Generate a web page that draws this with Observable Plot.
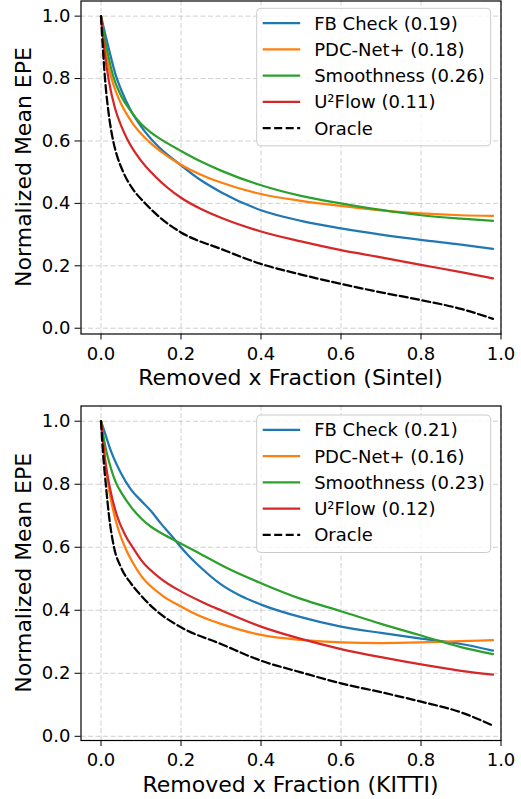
<!DOCTYPE html>
<html><head><meta charset="utf-8">
<script src="https://cdn.jsdelivr.net/npm/d3@7"></script>
<script src="https://cdn.jsdelivr.net/npm/@observablehq/plot@0.6"></script>
<style>
body{margin:0;background:#fff;}
#root svg{display:block;}
</style>
</head><body><div id="root"></div>
<script>
const methods = ["FB Check", "PDC-Net+", "Smoothness", "U²Flow", "Oracle"];
const colors = ["#1f77b4", "#ff7f0e", "#2ca02c", "#d62728", "#000000"];
const sintelScores = [0.19, 0.18, 0.26, 0.11];
const kittiScores = [0.21, 0.16, 0.23, 0.12];
const xTicks = [0, 0.2, 0.4, 0.6, 0.8, 1.0];
const yTicks = [0, 0.2, 0.4, 0.6, 0.8, 1.0];

// Sintel curves [removed fraction, normalized mean EPE]
const sintelFB = [[0,1],[0.01,0.945],[0.02,0.893],[0.037,0.81],[0.05,0.765],[0.075,0.697],[0.1,0.647],[0.137,0.59],[0.2,0.522],[0.25,0.474],[0.3,0.436],[0.4,0.378],[0.5,0.344],[0.6,0.32],[0.7,0.3],[0.8,0.283],[0.9,0.268],[0.98,0.254]];
const sintelPDC = [[0,1],[0.01,0.9],[0.02,0.832],[0.03,0.785],[0.05,0.72],[0.08,0.655],[0.12,0.598],[0.15,0.566],[0.2,0.524],[0.25,0.492],[0.3,0.467],[0.4,0.43],[0.5,0.408],[0.6,0.392],[0.7,0.378],[0.8,0.368],[0.9,0.362],[0.98,0.36]];
const sintelSmooth = [[0,1],[0.01,0.925],[0.02,0.862],[0.03,0.81],[0.05,0.745],[0.075,0.695],[0.1,0.655],[0.125,0.627],[0.15,0.605],[0.2,0.568],[0.25,0.534],[0.3,0.505],[0.4,0.458],[0.5,0.424],[0.6,0.4],[0.7,0.379],[0.8,0.362],[0.9,0.351],[0.98,0.344]];
const sintelU2 = [[0,1],[0.01,0.875],[0.02,0.79],[0.035,0.705],[0.05,0.65],[0.066,0.605],[0.1,0.537],[0.135,0.487],[0.2,0.418],[0.25,0.382],[0.3,0.354],[0.4,0.31],[0.5,0.278],[0.6,0.25],[0.7,0.227],[0.8,0.203],[0.9,0.18],[0.98,0.16]];
const sintelOracle = [[0,1],[0.005,0.89],[0.01,0.8],[0.02,0.68],[0.03,0.603],[0.04,0.553],[0.055,0.502],[0.08,0.445],[0.107,0.405],[0.15,0.352],[0.2,0.307],[0.3,0.254],[0.4,0.206],[0.5,0.172],[0.6,0.142],[0.7,0.115],[0.8,0.09],[0.9,0.062],[0.98,0.03]];

// KITTI curves
const kittiFB = [[0,1],[0.01,0.962],[0.025,0.905],[0.05,0.835],[0.075,0.783],[0.1,0.748],[0.125,0.715],[0.15,0.675],[0.1825,0.627],[0.2,0.6],[0.216,0.577],[0.25,0.535],[0.3,0.482],[0.35,0.445],[0.4,0.418],[0.5,0.378],[0.6,0.348],[0.7,0.328],[0.8,0.31],[0.9,0.293],[0.98,0.272]];
const kittiPDC = [[0,1],[0.01,0.88],[0.018,0.8],[0.03,0.72],[0.045,0.65],[0.06,0.6],[0.08,0.55],[0.1,0.51],[0.15,0.45],[0.2,0.412],[0.25,0.38],[0.3,0.357],[0.4,0.322],[0.5,0.306],[0.6,0.298],[0.7,0.296],[0.8,0.298],[0.9,0.302],[0.98,0.305]];
const kittiSmooth = [[0,1],[0.01,0.925],[0.02,0.872],[0.03,0.83],[0.04,0.798],[0.05,0.775],[0.075,0.728],[0.1,0.692],[0.125,0.665],[0.15,0.645],[0.1825,0.623],[0.21,0.605],[0.25,0.578],[0.32,0.531],[0.4,0.486],[0.5,0.436],[0.6,0.397],[0.7,0.357],[0.8,0.32],[0.9,0.283],[0.98,0.261]];
const kittiU2 = [[0,1],[0.01,0.88],[0.022,0.79],[0.04,0.7],[0.06,0.64],[0.08,0.598],[0.1,0.56],[0.15,0.5],[0.2,0.46],[0.25,0.428],[0.3,0.4],[0.4,0.348],[0.5,0.309],[0.6,0.277],[0.7,0.251],[0.8,0.228],[0.9,0.208],[0.98,0.196]];
const kittiOracle = [[0,1],[0.005,0.9],[0.012,0.8],[0.02,0.7],[0.0325,0.6],[0.05,0.536],[0.075,0.485],[0.1,0.447],[0.1325,0.405],[0.2,0.346],[0.3,0.293],[0.4,0.24],[0.5,0.203],[0.6,0.168],[0.7,0.14],[0.8,0.11],[0.9,0.076],[0.98,0.034]];

const FONT = "DejaVu Sans, Liberation Sans, sans-serif";
const fmt = d3.format(".1f");

function makeChart(cfg) {
  const W = 521, mL = 80.5, mR = 20.5;
  const marks = [
    Plot.gridX(xTicks, {stroke: "#b0b0b0", strokeOpacity: 0.6, strokeWidth: 1, strokeDasharray: "5,2.5"}),
    Plot.gridY(yTicks, {stroke: "#b0b0b0", strokeOpacity: 0.6, strokeWidth: 1, strokeDasharray: "5,2.5"}),
  ];
  cfg.series.forEach((pts, i) => {
    marks.push(Plot.line(pts, {
      x: d => d[0], y: d => d[1], stroke: colors[i], strokeWidth: 2.25,
      curve: "monotone-x", strokeDasharray: i === 4 ? "8,3.5" : undefined
    }));
  });
  marks.push(
    Plot.frame({stroke: "black", strokeWidth: 1.2}),
    Plot.axisX(xTicks, {tickFormat: fmt, tickSize: 6, tickPadding: 7, fontSize: 18, label: null}),
    Plot.axisY(yTicks, {tickFormat: fmt, tickSize: 6, tickPadding: 4.5, fontSize: 18, label: null})
  );
  const svg = Plot.plot({
    width: W, height: cfg.height,
    marginLeft: mL, marginRight: mR, marginTop: cfg.marginTop, marginBottom: cfg.marginBottom,
    x: {domain: [-0.05, 1.0]},
    y: {domain: cfg.yDomain},
    style: {fontFamily: FONT, fontSize: "18px", background: "white", color: "black", overflow: "visible"},
    marks
  });
  const frameTop = cfg.marginTop, frameBottom = cfg.height - cfg.marginBottom;
  const frameLeft = mL, frameRight = W - mR;
  const s = d3.select(svg);
  // axis titles
  s.append("text").attr("font-family", FONT).attr("font-size", 22).attr("text-anchor", "middle")
    .attr("fill", "black")
    .attr("x", (frameLeft + frameRight) / 2).attr("y", frameBottom + 51.5).text(cfg.xlabel);
  s.append("text").attr("font-family", FONT).attr("font-size", 22).attr("text-anchor", "middle")
    .attr("fill", "black")
    .attr("transform", `translate(${frameLeft - 49.5},${(frameTop + frameBottom) / 2}) rotate(-90)`)
    .text("Normalized Mean EPE");
  // legend (upper right)
  const left = frameRight - 9.8 - 234;
  const top = frameTop + cfg.legendTop;
  const g = s.append("g").attr("font-family", FONT).attr("font-size", 18).attr("text-anchor", "start");
  g.append("rect").attr("x", left).attr("y", top).attr("width", 234).attr("height", 137.5)
    .attr("rx", 4).attr("fill", "white").attr("fill-opacity", 0.8).attr("stroke", "#cccccc").attr("stroke-width", 1);
  const labels = methods.map((m, i) => i < 4 ? `${m} (${cfg.scores[i].toFixed(2)})` : m);
  labels.forEach((lab, i) => {
    const y = top + 14.8 + i * 26.25;
    g.append("line").attr("x1", left + 6).attr("x2", left + 43.5).attr("y1", y).attr("y2", y)
      .attr("stroke", colors[i]).attr("stroke-width", 2.25)
      .attr("stroke-dasharray", i === 4 ? "8,3.5" : null);
    g.append("text").attr("x", left + 57.5).attr("y", y + 6.5).attr("fill", "black").text(lab);
  });
  return svg;
}

const root = document.getElementById("root");
root.appendChild(makeChart({
  series: [sintelFB, sintelPDC, sintelSmooth, sintelU2, sintelOracle],
  scores: sintelScores, xlabel: "Removed x Fraction (Sintel)",
  height: 400, marginTop: 0.5, marginBottom: 66.5, yDomain: [-0.0185, 1.0485], legendTop: 7.8
}));
root.appendChild(makeChart({
  series: [kittiFB, kittiPDC, kittiSmooth, kittiU2, kittiOracle],
  scores: kittiScores, xlabel: "Removed x Fraction (KITTI)",
  height: 399, marginTop: 5.5, marginBottom: 59, yDomain: [-0.0133, 1.0483], legendTop: 9.5
}));
</script>
</body></html>
